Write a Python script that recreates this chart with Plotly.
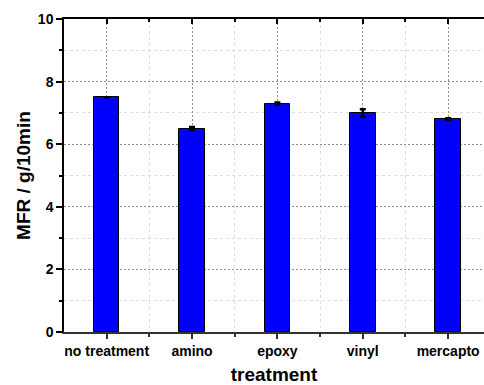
import plotly.graph_objects as go

# Melt flow rate by filler surface treatment
categories = ["no treatment", "amino", "epoxy", "vinyl", "mercapto"]
mfr = [7.5, 6.5, 7.3, 7.0, 6.8]
mfr_err = [0.0, 0.05, 0.03, 0.12, 0.03]
y_ticks = [0, 2, 4, 6, 8, 10]

xpos = list(range(len(categories)))
xrange = [-0.5, 4.42]
minor_x = [i + 0.5 for i in xpos[:-1]]

font_family = "Liberation Sans, Arial, sans-serif"

fig = go.Figure()
fig.add_trace(go.Bar(
    x=xpos, y=mfr, width=0.3,
    marker=dict(color="#0000FF", line=dict(color="#000000", width=1)),
    error_y=dict(type="data", array=mfr_err, visible=True,
                 color="#000000", thickness=2.5, width=3),
    showlegend=False,
))

fig.update_layout(
    width=484, height=385,
    margin=dict(l=64, r=0, t=19, b=53),
    plot_bgcolor="white", paper_bgcolor="white",
    font=dict(family=font_family, size=14, color="#000000"),
    bargap=0,
    xaxis=dict(
        range=xrange, tickmode="array", tickvals=xpos, ticktext=categories,
        tickfont=dict(family=font_family, size=14, weight="bold"),
        ticks="outside", ticklen=5, tickwidth=1.5, tickcolor="#333333",
        showline=True, linecolor="#333333", linewidth=1.5,
        showgrid=True, gridcolor="#8c8c8c", griddash="2px,2px", gridwidth=1,
        zeroline=False, automargin=False,
        minor=dict(tickmode="array", tickvals=minor_x, ticks="outside",
                   ticklen=3, tickwidth=1.5, tickcolor="#333333",
                   showgrid=True, gridcolor="#dddddd", griddash="dot", gridwidth=1),
        title=dict(text="<b>treatment</b>", font=dict(family=font_family, size=19),
                   standoff=18),
    ),
    xaxis2=dict(
        range=xrange, overlaying="x", side="top", anchor="y",
        tickmode="array", tickvals=xpos, showticklabels=False,
        ticks="inside", ticklen=5, tickwidth=1.5, tickcolor="#000000",
        showline=True, linecolor="#000000", linewidth=1.5,
        showgrid=False, zeroline=False, automargin=False,
        minor=dict(tickmode="array", tickvals=minor_x, ticks="inside",
                   ticklen=3, tickwidth=1.5, tickcolor="#000000", showgrid=False),
    ),
    yaxis=dict(
        range=[0, 10], tickmode="array", tickvals=y_ticks,
        tickfont=dict(family=font_family, size=14, weight="bold"),
        ticks="outside", ticklen=6, tickwidth=1.5, tickcolor="#000000",
        showline=True, linecolor="#000000", linewidth=1.5,
        showgrid=True, gridcolor="#8c8c8c", griddash="2px,2px", gridwidth=1,
        zeroline=False, automargin=False,
        minor=dict(tickmode="array", tickvals=[1, 3, 5, 7, 9], ticks="outside",
                   ticklen=3, tickwidth=1.5, tickcolor="#000000",
                   showgrid=True, gridcolor="#dddddd", griddash="dot", gridwidth=1),
        title=dict(text="<b>MFR / g/10min</b>", font=dict(family=font_family, size=19),
                   standoff=2),
    ),
)

# empty trace so the top axis is drawn
fig.add_trace(go.Scatter(x=[None], y=[None], xaxis="x2", showlegend=False))

fig.write_html("out.html")
